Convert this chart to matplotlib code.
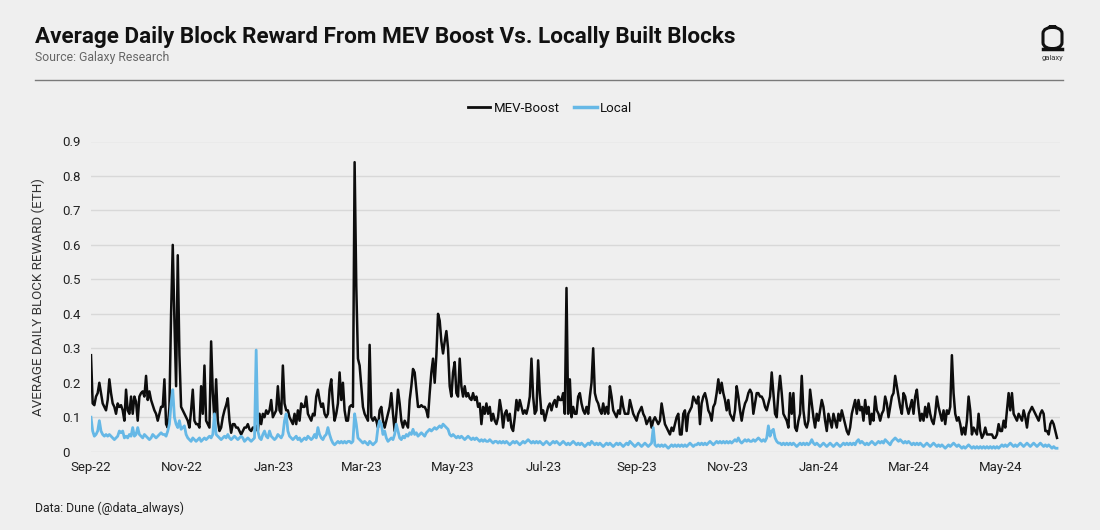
import matplotlib
matplotlib.use("Agg")
import matplotlib.pyplot as plt
import matplotlib.dates as mdates
from matplotlib.patches import FancyBboxPatch
from matplotlib.lines import Line2D
import numpy as np
import pandas as pd

# ---------------- data ----------------
start_date = "2022-09-01"
end_date = "2024-06-08"

mev_boost = [
    0.28, 0.14, 0.135, 0.16, 0.17, 0.2, 0.17, 0.14, 0.13, 0.12, 0.15, 0.21, 0.17, 0.14, 0.13, 0.11,
    0.14, 0.13, 0.135, 0.12, 0.09, 0.18, 0.12, 0.11, 0.16, 0.11, 0.16, 0.145, 0.09, 0.16, 0.17, 0.175,
    0.16, 0.22, 0.15, 0.175, 0.15, 0.135, 0.12, 0.11, 0.09, 0.11, 0.13, 0.13, 0.21, 0.08, 0.07, 0.13,
    0.4, 0.6, 0.38, 0.19, 0.57, 0.28, 0.13, 0.12, 0.11, 0.1, 0.09, 0.07, 0.12, 0.18, 0.09, 0.08,
    0.08, 0.07, 0.19, 0.11, 0.25, 0.09, 0.08, 0.07, 0.32, 0.17, 0.09, 0.21, 0.09, 0.06, 0.07, 0.1,
    0.12, 0.135, 0.155, 0.09, 0.055, 0.08, 0.08, 0.07, 0.07, 0.06, 0.05, 0.06, 0.07, 0.07, 0.08, 0.065,
    0.06, 0.07, 0.07, 0.075, 0.06, 0.11, 0.08, 0.11, 0.1, 0.12, 0.11, 0.12, 0.15, 0.1, 0.11, 0.12,
    0.19, 0.12, 0.11, 0.25, 0.14, 0.12, 0.12, 0.1, 0.09, 0.08, 0.11, 0.08, 0.12, 0.09, 0.14, 0.13,
    0.13, 0.16, 0.11, 0.1, 0.09, 0.11, 0.105, 0.16, 0.18, 0.15, 0.13, 0.14, 0.11, 0.1, 0.11, 0.18,
    0.21, 0.14, 0.09, 0.11, 0.14, 0.23, 0.15, 0.2, 0.12, 0.09, 0.09, 0.13, 0.135, 0.13, 0.84, 0.48,
    0.27, 0.25, 0.19, 0.13, 0.11, 0.1, 0.09, 0.31, 0.1, 0.09, 0.1, 0.09, 0.07,
    # Mar-23 .. Sep-23
    0.12, 0.13, 0.09, 0.07, 0.09, 0.11, 0.13, 0.17, 0.11, 0.06, 0.11, 0.18, 0.14, 0.09, 0.07, 0.09,
    0.08, 0.07, 0.15, 0.19, 0.24, 0.23, 0.18, 0.13, 0.13, 0.135, 0.13, 0.13, 0.12, 0.10, 0.17, 0.23,
    0.27, 0.2, 0.28, 0.40, 0.38, 0.32, 0.285, 0.32, 0.35, 0.30, 0.19, 0.16, 0.23, 0.26, 0.17, 0.16,
    0.27, 0.19, 0.16, 0.19, 0.16, 0.17, 0.155, 0.15, 0.17, 0.15, 0.16, 0.13, 0.14, 0.08, 0.13, 0.11,
    0.14, 0.11, 0.13, 0.09, 0.11, 0.09, 0.08, 0.10, 0.15, 0.12, 0.07, 0.11, 0.12, 0.09, 0.11, 0.07,
    0.06, 0.10, 0.15, 0.12, 0.15, 0.13, 0.11, 0.12, 0.11, 0.13, 0.16, 0.27, 0.16, 0.11, 0.12, 0.265,
    0.17, 0.11, 0.12, 0.09, 0.11, 0.13, 0.14, 0.12, 0.14, 0.15, 0.13, 0.16, 0.15, 0.15, 0.17, 0.11,
    0.475, 0.11, 0.21, 0.10, 0.13, 0.11, 0.11, 0.16, 0.17, 0.14, 0.12, 0.11, 0.13, 0.11, 0.16, 0.2,
    0.30, 0.17, 0.15, 0.14, 0.12, 0.11, 0.14, 0.11, 0.13, 0.11, 0.19, 0.16, 0.12, 0.11, 0.10, 0.12,
    0.11, 0.16, 0.13, 0.11, 0.11, 0.11, 0.15, 0.13, 0.11, 0.10, 0.09, 0.11, 0.12, 0.13, 0.11, 0.10,
    0.08, 0.09, 0.10, 0.07, 0.09, 0.10, 0.09, 0.08, 0.09, 0.14, 0.11, 0.08, 0.07, 0.06, 0.05, 0.07,
    0.06, 0.08, 0.10, 0.11,
    # Sep-23 .. Jun-24
    0.05, 0.05, 0.11, 0.12, 0.06, 0.11, 0.12, 0.13, 0.16, 0.15, 0.14, 0.16, 0.08, 0.14, 0.16, 0.17,
    0.15, 0.12, 0.11, 0.09, 0.13, 0.14, 0.17, 0.21, 0.17, 0.20, 0.17, 0.15, 0.12, 0.15, 0.11, 0.10,
    0.09, 0.12, 0.19, 0.16, 0.12, 0.09, 0.12, 0.14, 0.15, 0.17, 0.18, 0.17, 0.11, 0.14, 0.17, 0.17,
    0.16, 0.16, 0.15, 0.13, 0.12, 0.14, 0.16, 0.23, 0.17, 0.11, 0.10, 0.17, 0.22, 0.17, 0.11, 0.10,
    0.09, 0.07, 0.17, 0.11, 0.17, 0.07, 0.06, 0.09, 0.11, 0.22, 0.12, 0.08, 0.07, 0.09, 0.18, 0.14,
    0.10, 0.07, 0.11, 0.09, 0.12, 0.15, 0.13, 0.09, 0.06, 0.11, 0.09, 0.07, 0.11, 0.09, 0.07, 0.11,
    0.09, 0.12, 0.10, 0.08, 0.06, 0.05, 0.07, 0.11, 0.13, 0.15, 0.11, 0.15, 0.12, 0.13, 0.09, 0.15,
    0.11, 0.13, 0.08, 0.11, 0.09, 0.16, 0.12, 0.11, 0.09, 0.11, 0.12, 0.16, 0.14, 0.10, 0.13, 0.16,
    0.17, 0.22, 0.19, 0.16, 0.13, 0.11, 0.17, 0.16, 0.13, 0.11, 0.13, 0.15, 0.11, 0.16, 0.18, 0.13,
    0.09, 0.11, 0.09, 0.13, 0.10, 0.14, 0.11, 0.09, 0.08, 0.11, 0.16, 0.13, 0.11, 0.09, 0.12, 0.08,
    0.12, 0.11, 0.13, 0.28, 0.17, 0.11, 0.09, 0.10, 0.08, 0.05, 0.07, 0.05, 0.09, 0.16, 0.12, 0.05,
    0.07, 0.06, 0.05, 0.11, 0.06, 0.04, 0.05, 0.07, 0.05, 0.05, 0.05, 0.05, 0.04, 0.04, 0.05, 0.08,
    0.06, 0.06, 0.09, 0.07, 0.12, 0.17, 0.12, 0.17, 0.11, 0.10, 0.09, 0.11, 0.10, 0.09, 0.12, 0.10,
    0.07, 0.11, 0.12, 0.13, 0.12, 0.11, 0.10, 0.09, 0.11, 0.12, 0.11, 0.06, 0.06, 0.05, 0.08, 0.09,
    0.08, 0.06, 0.04,
]

local = [
    0.10, 0.06, 0.045, 0.05, 0.06, 0.09, 0.06, 0.05, 0.045, 0.05, 0.045, 0.05, 0.045, 0.04, 0.035, 0.04,
    0.045, 0.06, 0.055, 0.06, 0.04, 0.045, 0.04, 0.05, 0.045, 0.07, 0.045, 0.05, 0.07, 0.05, 0.045, 0.04,
    0.05, 0.045, 0.04, 0.035, 0.04, 0.05, 0.045, 0.04, 0.045, 0.05, 0.055, 0.05, 0.05, 0.045, 0.06, 0.08,
    0.14, 0.18, 0.1, 0.08, 0.07, 0.09, 0.065, 0.07, 0.075, 0.05, 0.04, 0.035, 0.03, 0.04, 0.035, 0.03,
    0.035, 0.04, 0.03, 0.035, 0.04, 0.035, 0.04, 0.045, 0.04, 0.05, 0.11, 0.05, 0.045, 0.04, 0.035, 0.04,
    0.045, 0.04, 0.05, 0.04, 0.035, 0.04, 0.045, 0.04, 0.035, 0.04, 0.045, 0.04, 0.03, 0.035, 0.04, 0.035,
    0.03, 0.035, 0.04, 0.295, 0.06, 0.04, 0.035, 0.05, 0.06, 0.045, 0.04, 0.06, 0.045, 0.04, 0.035, 0.04,
    0.05, 0.045, 0.04, 0.05, 0.09, 0.11, 0.06, 0.045, 0.04, 0.035, 0.04, 0.045, 0.035, 0.04, 0.03, 0.035,
    0.04, 0.035, 0.045, 0.04, 0.035, 0.04, 0.05, 0.04, 0.07, 0.05, 0.04, 0.035, 0.045, 0.05, 0.07, 0.05,
    0.035, 0.025, 0.02, 0.025, 0.03, 0.025, 0.03, 0.025, 0.03, 0.025, 0.03, 0.03, 0.025, 0.03, 0.11, 0.08,
    0.04, 0.035, 0.03, 0.025, 0.03, 0.025, 0.02, 0.03, 0.025, 0.02, 0.025, 0.03, 0.07,
    # Mar-23 .. Sep-23
    0.09, 0.08, 0.05, 0.06, 0.04, 0.03, 0.035, 0.04, 0.035, 0.05, 0.08, 0.06, 0.04, 0.035, 0.045, 0.04,
    0.05, 0.045, 0.055, 0.05, 0.065, 0.05, 0.055, 0.045, 0.05, 0.055, 0.05, 0.045, 0.055, 0.06, 0.065, 0.06,
    0.065, 0.07, 0.065, 0.07, 0.075, 0.07, 0.08, 0.075, 0.07, 0.065, 0.05, 0.045, 0.05, 0.045, 0.04, 0.045,
    0.04, 0.045, 0.04, 0.035, 0.04, 0.045, 0.04, 0.035, 0.04, 0.035, 0.04, 0.035, 0.03, 0.035, 0.03, 0.035,
    0.03, 0.03, 0.035, 0.03, 0.025, 0.03, 0.03, 0.025, 0.03, 0.025, 0.03, 0.025, 0.03, 0.025, 0.02, 0.025,
    0.03, 0.025, 0.03, 0.025, 0.02, 0.025, 0.03, 0.025, 0.03, 0.035, 0.03, 0.025, 0.03, 0.025, 0.03, 0.025,
    0.03, 0.025, 0.02, 0.025, 0.03, 0.025, 0.02, 0.025, 0.03, 0.025, 0.03, 0.025, 0.02, 0.025, 0.03, 0.025,
    0.02, 0.025, 0.02, 0.025, 0.03, 0.025, 0.02, 0.025, 0.02, 0.025, 0.02, 0.015, 0.02, 0.025, 0.02, 0.03,
    0.025, 0.02, 0.025, 0.02, 0.025, 0.02, 0.015, 0.02, 0.025, 0.02, 0.025, 0.02, 0.015, 0.02, 0.025, 0.02,
    0.025, 0.02, 0.015, 0.02, 0.025, 0.02, 0.03, 0.025, 0.02, 0.015, 0.02, 0.025, 0.02, 0.015, 0.02, 0.025,
    0.02, 0.015, 0.02, 0.025, 0.07, 0.02, 0.015, 0.02, 0.015, 0.02, 0.015, 0.02, 0.015, 0.01, 0.015, 0.02,
    0.015, 0.02, 0.015, 0.02,
    # Sep-23 .. Jun-24
    0.015, 0.02, 0.015, 0.02, 0.015, 0.02, 0.025, 0.02, 0.015, 0.02,
    0.02, 0.025, 0.02, 0.025, 0.02, 0.025, 0.02, 0.025, 0.03, 0.025,
    0.02, 0.025, 0.03, 0.025, 0.03, 0.025, 0.03, 0.025, 0.03, 0.025,
    0.03, 0.025, 0.03, 0.035, 0.03, 0.04, 0.03, 0.025, 0.03, 0.035,
    0.03, 0.035, 0.03, 0.03, 0.035, 0.03, 0.035, 0.04, 0.035, 0.03,
    0.035, 0.03, 0.04, 0.075, 0.045, 0.06, 0.065, 0.04, 0.03, 0.025,
    0.025, 0.02, 0.025, 0.02, 0.025, 0.02, 0.025, 0.02, 0.025, 0.02,
    0.015, 0.02, 0.025, 0.02, 0.025, 0.02, 0.025, 0.02, 0.025, 0.035,
    0.025, 0.02, 0.025, 0.02, 0.015, 0.02, 0.025, 0.02, 0.015, 0.02,
    0.025, 0.02, 0.015, 0.02, 0.025, 0.02, 0.015, 0.02, 0.025, 0.02,
    0.025, 0.02, 0.025, 0.02, 0.025, 0.02, 0.03, 0.035, 0.025, 0.03,
    0.025, 0.02, 0.025, 0.02, 0.025, 0.03, 0.025, 0.02, 0.025, 0.03,
    0.025, 0.03, 0.025, 0.035, 0.03, 0.025, 0.02, 0.03, 0.035, 0.04,
    0.035, 0.03, 0.035, 0.03, 0.025, 0.03, 0.025, 0.03, 0.025, 0.02,
    0.025, 0.02, 0.025, 0.02, 0.025, 0.02, 0.015, 0.02, 0.025, 0.02,
    0.015, 0.02, 0.025, 0.02, 0.015, 0.02, 0.015, 0.02, 0.015, 0.01,
    0.015, 0.02, 0.015, 0.02, 0.025, 0.02, 0.015, 0.02, 0.015, 0.01,
    0.015, 0.01, 0.015, 0.02, 0.015, 0.01, 0.015, 0.01, 0.015, 0.01,
    0.015, 0.01, 0.015, 0.01, 0.015, 0.01, 0.015, 0.01, 0.015, 0.01,
    0.015, 0.01, 0.015, 0.02, 0.015, 0.02, 0.015, 0.02, 0.025, 0.02,
    0.015, 0.02, 0.015, 0.02, 0.025, 0.02, 0.015, 0.02, 0.025, 0.02,
    0.015, 0.02, 0.025, 0.02, 0.015, 0.02, 0.025, 0.02, 0.015, 0.02,
    0.015, 0.02, 0.015, 0.01, 0.015, 0.01, 0.01,
]

y_ticks = [0, 0.1, 0.2, 0.3, 0.4, 0.5, 0.6, 0.7, 0.8, 0.9]
y_tick_labels = ["0", "0.1", "0.2", "0.3", "0.4", "0.5", "0.6", "0.7", "0.8", "0.9"]

series_names = ["MEV-Boost", "Local"]

# ---------------- figure ----------------
BG = "#efefef"
BLACK = "#0d0d0d"
BLUE = "#66b8e6"

plt.rcParams["font.family"] = ["Roboto", "DejaVu Sans"]

fig = plt.figure(figsize=(11, 5.3), dpi=100, facecolor=BG)

dates_mev = pd.date_range(start_date, end_date, periods=len(mev_boost))
dates_loc = pd.date_range(start_date, end_date, periods=len(local))

ax = fig.add_axes([91 / 1100, 1 - 451.7 / 530, (1060 - 91) / 1100, (451.7 - 141.5) / 530])
ax.set_facecolor(BG)

ax.plot(dates_mev, mev_boost, color=BLACK, lw=1.8, label=series_names[0], zorder=3)
ax.plot(dates_loc, local, color=BLUE, lw=2.0, label=series_names[1], zorder=4)

ax.set_ylim(0, 0.9)
ax.set_xlim(pd.Timestamp("2022-09-01"), pd.Timestamp("2024-06-10"))
ax.set_yticks(y_ticks)
ax.set_yticklabels(y_tick_labels)
ax.grid(axis="y", color="#d8d8d8", lw=1.0, zorder=0)
ax.set_axisbelow(True)
for s in ax.spines.values():
    s.set_visible(False)

ax.xaxis.set_major_locator(mdates.MonthLocator(bymonth=[1, 3, 5, 7, 9, 11]))
ax.xaxis.set_major_formatter(mdates.DateFormatter("%b-%y"))
ax.tick_params(axis="both", length=0, labelsize=9.5, labelcolor="#222222")
ax.tick_params(axis="x", pad=7)
ax.tick_params(axis="y", pad=21)
for lab in ax.get_yticklabels():
    lab.set_horizontalalignment("left")

ax.set_ylabel("AVERAGE DAILY BLOCK REWARD (ETH)", fontsize=9.6, color="#333333")
ax.yaxis.set_label_coords(-46 / 969, 0.5)

# legend
handles = [Line2D([], [], color=BLACK, lw=2), Line2D([], [], color=BLUE, lw=2.5)]
fig.legend(handles, series_names, loc="center", bbox_to_anchor=(550 / 1100, 1 - 108 / 530),
           ncol=2, frameon=False, fontsize=9.5, handlelength=1.7, handletextpad=0.25,
           columnspacing=1.1, labelcolor="#111111")

# title / subtitle / footer
fig.text(35 / 1100, 1 - 37 / 530, "Average Daily Block Reward From MEV Boost Vs. Locally Built Blocks",
         fontsize=16.2, fontweight="bold", color="#111111", va="center", ha="left",
         family=["Roboto", "DejaVu Sans"])
fig.text(35 / 1100, 1 - 58 / 530, "Source: Galaxy Research", fontsize=8.8, color="#666666",
         va="center", ha="left")
fig.text(35 / 1100, 1 - 508 / 530, "Data: Dune (@data_always)", fontsize=8.8, color="#222222",
         va="center", ha="left")

# separator rule
fig.add_artist(Line2D([35 / 1100, 1063 / 1100], [1 - 80 / 530, 1 - 80 / 530], color="#7a7a7a", lw=1.0))

# logo
logo = FancyBboxPatch((1043 / 1100, 1 - 49 / 530), 19 / 1100, 22 / 530,
                      boxstyle="round,pad=0,rounding_size=0.012", transform=fig.transFigure,
                      facecolor="none", edgecolor="#111111", lw=2.2)
fig.add_artist(logo)
fig.add_artist(Line2D([1043 / 1100, 1062 / 1100], [1 - 48.5 / 530, 1 - 48.5 / 530], color="#111111", lw=2.5))
fig.text(1052.5 / 1100, 1 - 58 / 530, "galaxy", fontsize=5.5, color="#333333", ha="center", va="center")

fig.savefig("out.png", dpi=100, facecolor=BG)
